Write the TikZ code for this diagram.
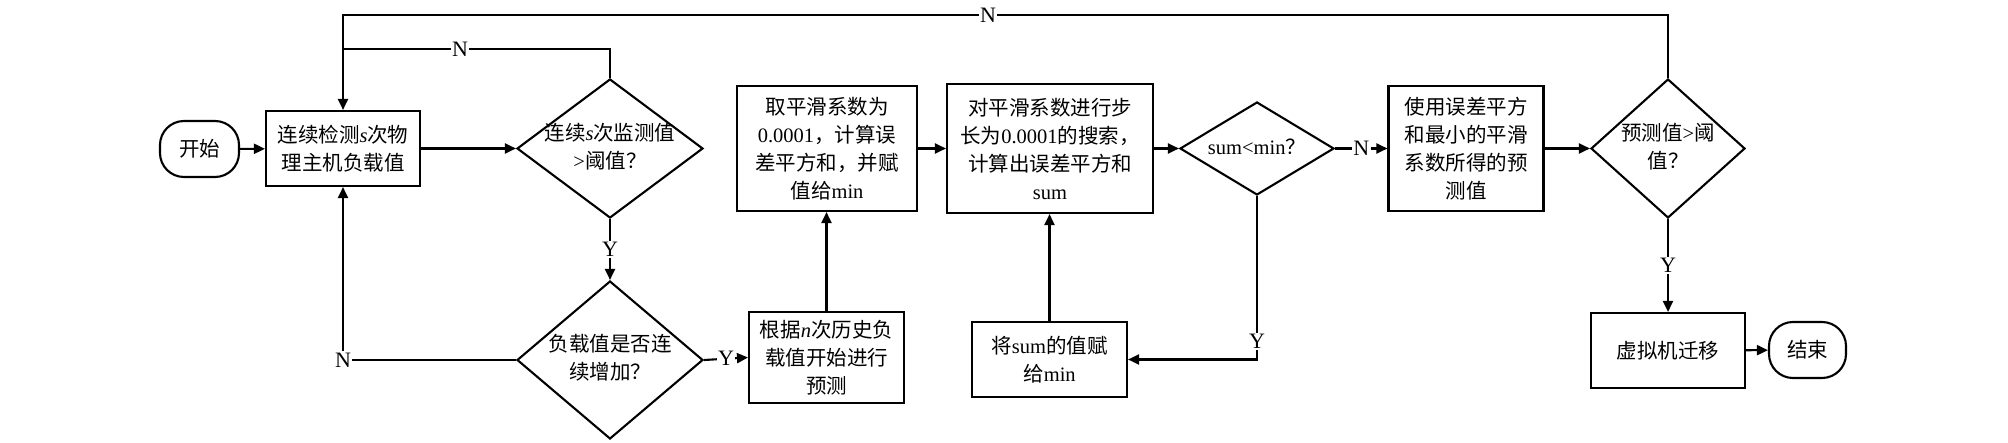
\documentclass[tikz,border=0pt]{standalone}
\usepackage{fontspec}
\setmainfont{Liberation Serif}
\newfontfamily\cjk{Noto Sans CJK SC}
\usetikzlibrary{shapes.geometric,arrows.meta}
\newcommand\en[1]{{\rmfamily #1}}
\newcommand\ei[1]{{\rmfamily\itshape #1}}
\newcommand\dtext[1]{\makebox[0pt]{\begin{tabular}{@{}c@{}}#1\end{tabular}}}
\begin{document}
\begin{tikzpicture}[x=1pt,y=-1pt,
 every node/.style={font=\cjk\fontsize{20.5}{28}\selectfont},
 box/.style={draw, line width=2.1pt, align=center, inner sep=0pt},
 dia/.style={draw, diamond, line width=2.1pt, inner sep=0pt},
 term/.style={draw, line width=2.1pt, rounded corners=24pt, inner sep=0pt},
 arr/.style={line width=2.1pt, -{Triangle[length=11pt,width=10pt]}},
 ln/.style={line width=2.1pt},
 lab/.style={fill=white, font=\rmfamily\fontsize{22}{24}\selectfont, inner sep=1.5pt}]
\useasboundingbox (0,0) rectangle (2008,443);
\node[term, minimum width=79pt, minimum height=56pt] (start) at (199.5,149) {开始};
\node[box, minimum width=154pt, minimum height=75pt] (b1) at (343,148.5) {连续检测\ei{s}次物\\理主机负载值};
\node[dia, minimum width=186pt, minimum height=139pt] (d1) at (610,148.5) {\dtext{连续\ei{s}次监测值\\\en{>}阈值？}};
\node[dia, minimum width=186pt, minimum height=158pt] (d2) at (610,360) {\dtext{负载值是否连\\续增加？}};
\node[box, minimum width=155pt, minimum height=91pt] (b2) at (826.5,357.5) {根据\ei{n}次历史负\\载值开始进行\\预测};
\node[box, minimum width=180pt, minimum height=125pt] (b3) at (827,148.5) {取平滑系数为\\\en{0.0001}，计算误\\差平方和，并赋\\值给\en{min}};
\node[box, minimum width=206pt, minimum height=129pt] (b4) at (1050,148.5) {对平滑系数进行步\\长为\en{0.0001}的搜索，\\计算出误差平方和\\\en{sum}};
\node[box, minimum width=155pt, minimum height=75pt] (b5) at (1049.5,359.5) {将\en{sum}的值赋\\给\en{min}};
\node[dia, minimum width=154pt, minimum height=93pt] (d3) at (1257,148.5) {\dtext{\en{sum<min}？}};
\node[box, minimum width=155pt, minimum height=125pt] (b6) at (1466,148.5) {使用误差平方\\和最小的平滑\\系数所得的预\\测值};
\node[dia, minimum width=154pt, minimum height=139pt] (d4) at (1668,148.5) {\dtext{预测值\en{>}阈\\值？}};
\node[box, minimum width=154pt, minimum height=75pt] (b7) at (1668,350.5) {虚拟机迁移};
\node[term, minimum width=77pt, minimum height=56pt] (stop) at (1807.5,350) {结束};
\coordinate (y49) at (0,49);
\coordinate (y15) at (0,15);
\draw[arr] (start) -- (b1);
\draw[arr] (b1) -- (d1);
\draw[arr] (d1.north) |- (b1.north |- y49) -- (b1.north);
\node[lab] (nl1) at (460,49) {N};
\draw[ln] (d4.north) |- (b1.north |- y15) -- (b1.north |- y49);
\node[lab] (nl2) at (988,15) {N};
\draw[arr] (d1.south) -- node[lab] (yl1) {Y} (d2.north);
\draw[arr] (d2.west) -| node[lab, pos=0.5] (nl3) {N} (b1.south);
\draw[arr] (d2.east) -- node[lab] (yl2) {Y} (b2.west);
\draw[arr] (b2.north) -- (b2.north |- b3.south);
\draw[arr] (b3) -- (b4);
\draw[arr] (b4) -- (d3);
\draw[arr] (d3.east) -- node[lab] (nl4) {N} (b6.west);
\draw[arr] (d3.south) |- node[lab, pos=0.445] (yl3) {Y} (b5.east);
\draw[arr] (b5.north) -- (b5.north |- b4.south);
\draw[arr] (b6) -- (d4);
\draw[arr] (d4.south) -- node[lab] (yl4) {Y} (b7.north);
\draw[arr] (b7) -- (stop);
\end{tikzpicture}
\end{document}
